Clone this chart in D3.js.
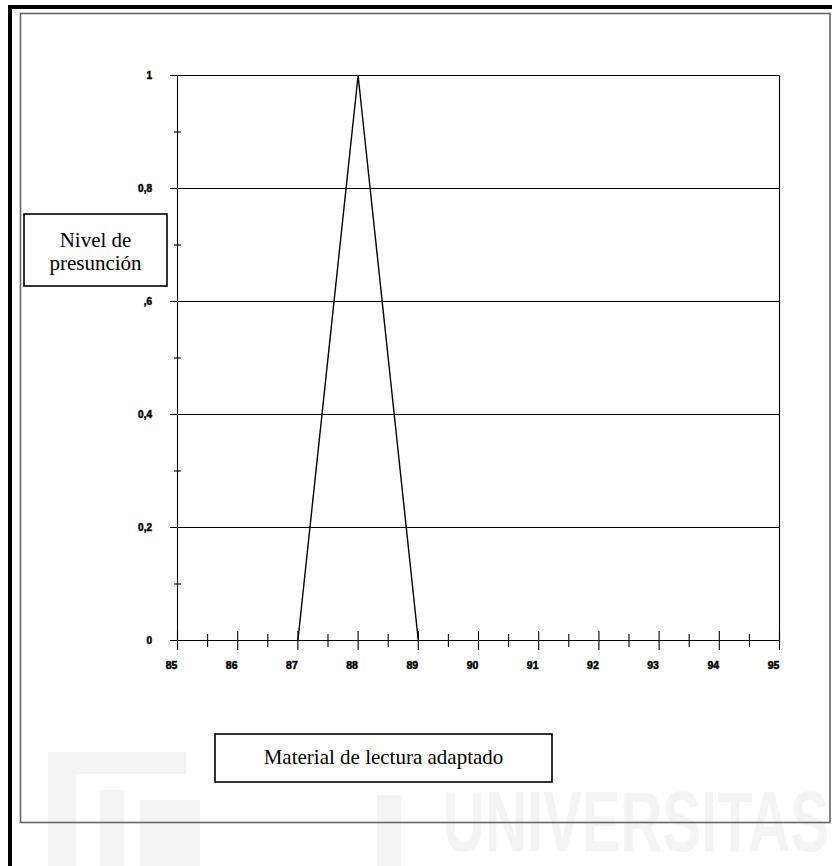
<!DOCTYPE html>
<html>
<head>
<meta charset="utf-8">
<script src="https://d3js.org/d3.v7.min.js"></script>
<style>
  body { margin: 0; background: #fff; }
</style>
</head>
<body>
<div id="viz"></div>
<script>
// data
const xTicks = [85, 86, 87, 88, 89, 90, 91, 92, 93, 94, 95];
const xLabels = ["85", "86", "87", "88", "89", "90", "91", "92", "93", "94", "95"];
const xMinor = [85.5, 86.5, 87.5, 88.5, 89.5, 90.5, 91.5, 92.5, 93.5, 94.5];
const yTicks = [0, 0.2, 0.4, 0.6, 0.8, 1];
const yLabels = ["0", "0,2", "0,4", ",6", "0,8", "1"];
const yMinor = [0.1, 0.3, 0.5, 0.7, 0.9];
const seriesX = [87, 88, 89];
const seriesY = [0, 1, 0];

const W = 832, H = 866;
const serif = "'Liberation Serif', 'Times New Roman', 'DejaVu Serif', serif";
const sans = "'Liberation Sans', Arial, 'DejaVu Sans', sans-serif";

const svg = d3.select("#viz").append("svg")
  .attr("width", W).attr("height", H);

// faint watermark
const wm = svg.append("g").attr("fill", "#f4f4f4");
wm.append("text")
  .attr("x", 443).attr("y", 851)
  .attr("font-family", sans)
  .attr("font-weight", "bold")
  .attr("font-size", 86)
  .attr("textLength", 386)
  .attr("lengthAdjust", "spacingAndGlyphs")
  .text("UNIVERSITAS");
wm.append("rect").attr("x", 48).attr("y", 752).attr("width", 28).attr("height", 114);
wm.append("rect").attr("x", 76).attr("y", 752).attr("width", 110).attr("height", 22);
wm.append("rect").attr("x", 100).attr("y", 790).attr("width", 24).attr("height", 76);
wm.append("rect").attr("x", 140).attr("y", 800).attr("width", 60).attr("height", 66);
wm.append("rect").attr("x", 377).attr("y", 795).attr("width", 24).attr("height", 71);

// outer frames
svg.append("rect")
  .attr("x", 10).attr("y", 7).attr("width", 900).attr("height", 900)
  .attr("fill", "none").attr("stroke", "#000").attr("stroke-width", 4);
svg.append("rect")
  .attr("x", 20.5).attr("y", 13.5).attr("width", 809.5).attr("height", 809)
  .attr("fill", "none").attr("stroke", "#666").attr("stroke-width", 1.6);

const x = d3.scaleLinear().domain([85, 95]).range([177.5, 779.5]);
const y = d3.scaleLinear().domain([0, 1]).range([640.5, 75.5]);

const plot = svg.append("g").attr("stroke", "#000").attr("stroke-width", 1.1);

// gridlines (with left tick stub)
plot.selectAll("line.grid").data(yTicks).enter().append("line")
  .attr("class", "grid")
  .attr("x1", 170).attr("x2", x(95))
  .attr("y1", d => y(d)).attr("y2", d => y(d));

// axes lines
plot.append("line").attr("x1", x(85)).attr("x2", x(85)).attr("y1", y(1)).attr("y2", y(0));
plot.append("line").attr("x1", x(95)).attr("x2", x(95)).attr("y1", y(1)).attr("y2", y(0));

// y minor ticks
plot.selectAll("line.ymin").data(yMinor).enter().append("line")
  .attr("x1", x(85) - 3.5).attr("x2", x(85) + 3.5)
  .attr("y1", d => y(d)).attr("y2", d => y(d));

// x ticks
plot.selectAll("line.xmaj").data(xTicks).enter().append("line")
  .attr("x1", d => x(d)).attr("x2", d => x(d))
  .attr("y1", y(0) - 9.5).attr("y2", y(0) + 9.5);
plot.selectAll("line.xmin").data(xMinor).enter().append("line")
  .attr("x1", d => x(d)).attr("x2", d => x(d))
  .attr("y1", y(0) - 6.5).attr("y2", y(0) + 6.5);

// labels
svg.selectAll("text.xl").data(xTicks).enter().append("text")
  .attr("font-family", sans).attr("font-weight", "bold")
  .attr("stroke", "#000").attr("stroke-width", 0.5)
  .attr("font-size", 10.5)
  .attr("text-anchor", "middle")
  .attr("x", d => x(d) - 6)
  .attr("y", y(0) + 28)
  .text((d, i) => xLabels[i]);

svg.selectAll("text.yl").data(yTicks).enter().append("text")
  .attr("font-family", sans).attr("font-weight", "bold")
  .attr("stroke", "#000").attr("stroke-width", 0.5)
  .attr("font-size", 10)
  .attr("text-anchor", "end")
  .attr("x", 152)
  .attr("y", d => y(d) + 3.5)
  .text((d, i) => yLabels[i]);

// series
const line = d3.line().x(d => x(d[0])).y(d => y(d[1]));
svg.append("path")
  .datum(seriesX.map((d, i) => [d, seriesY[i]]))
  .attr("d", line)
  .attr("fill", "none").attr("stroke", "#000").attr("stroke-width", 1.4);

// boxes
svg.append("rect")
  .attr("x", 24).attr("y", 214).attr("width", 143).attr("height", 72)
  .attr("fill", "#fff").attr("stroke", "#000").attr("stroke-width", 1.6);
const t1 = svg.append("text").attr("font-family", serif).attr("font-size", 21)
  .attr("text-anchor", "middle");
t1.append("tspan").attr("x", 95.5).attr("y", 247).text("Nivel de");
t1.append("tspan").attr("x", 95.5).attr("y", 270).text("presunción");

svg.append("rect")
  .attr("x", 215).attr("y", 734).attr("width", 337).attr("height", 48)
  .attr("fill", "#fff").attr("stroke", "#000").attr("stroke-width", 1.6);
svg.append("text").attr("font-family", serif).attr("font-size", 21)
  .attr("text-anchor", "middle")
  .attr("x", 383.5).attr("y", 764).text("Material de lectura adaptado");
</script>
</body>
</html>
